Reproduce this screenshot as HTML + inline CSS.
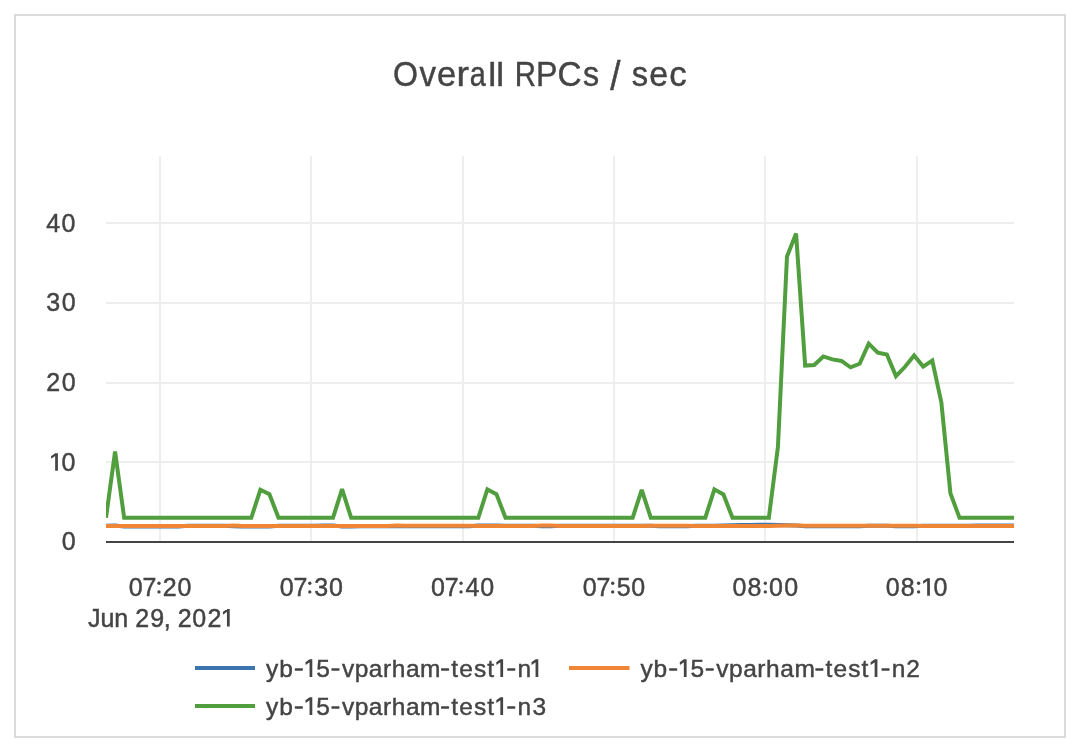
<!DOCTYPE html>
<html><head><meta charset="utf-8"><style>
html,body{margin:0;padding:0;background:#fff;}
svg{display:block;}
svg{will-change:transform;}
text{font-family:"Liberation Sans",sans-serif;fill:#444;stroke:#444;stroke-width:0.45px;}
</style></head><body>
<svg width="1074" height="744" viewBox="0 0 1074 744">
<rect x="0" y="0" width="1074" height="744" fill="#fff"/>
<rect x="15" y="15" width="1050" height="722" fill="none" stroke="#dbdbdd" stroke-width="2"/>
<g font-size="36"><text transform="translate(405.45,86) scale(0.893,1.0)" x="-14.00">O</text><text transform="translate(427.65,86) scale(0.918,0.95)" x="-9.00">v</text><text transform="translate(446.60,86) scale(0.960,0.95)" x="-9.95">e</text><text transform="translate(463.70,86) scale(1.042,0.95)" x="-6.90">r</text><text transform="translate(478.25,86) scale(0.801,0.95)" x="-10.75">a</text><text transform="translate(492.20,86) scale(1.000,0.915)" x="-4.00">l</text><text transform="translate(500.05,86) scale(0.974,0.915)" x="-4.00">l</text><text transform="translate(525.85,86) scale(0.817,1.0)" x="-13.65">R</text><text transform="translate(547.20,86) scale(0.893,1.0)" x="-12.55">P</text><text transform="translate(569.75,86) scale(0.927,1.0)" x="-13.20">C</text><text transform="translate(591.00,86) scale(0.896,0.95)" x="-8.85">s</text><text transform="translate(615.40,89.8) scale(1.019,1.12)" x="-5.00">/</text><text transform="translate(639.80,86) scale(0.908,0.95)" x="-8.85">s</text><text transform="translate(658.65,86) scale(0.943,0.95)" x="-9.95">e</text><text transform="translate(678.30,86) scale(0.969,0.95)" x="-9.25">c</text></g>
<g stroke="#eeeeee" stroke-width="2" fill="none">
<path d="M106,223H1014M106,303H1014M106,383H1014M106,462H1014"/>
<path d="M160,156V542M311,156V542M463,156V542M614,156V542M765,156V542M917,156V542"/>
</g>
<path d="M106,542H1014" stroke="#444" stroke-width="2"/>
<text y="231.9" font-size="25"><tspan x="46.15">4</tspan><tspan x="61.55">0</tspan></text>
<text y="310.9" font-size="25"><tspan x="46.20">3</tspan><tspan x="61.85">0</tspan></text>
<text y="391.1" font-size="25"><tspan x="46.25">2</tspan><tspan x="61.85">0</tspan></text>
<text y="470.8" font-size="25"><tspan x="61.45">0</tspan></text><path d="M55.15,453.25h2.75V470.80h-2.75ZM51.00,456.20L55.20,453.25L55.20,456.05L51.30,458.85Z" fill="#444"/>
<text y="550.2" font-size="25"><tspan x="61.75">0</tspan></text>
<text y="595.7" font-size="25"><tspan x="128.75">0</tspan><tspan x="142.55">7</tspan><tspan x="162.75">2</tspan><tspan x="177.50">0</tspan></text><circle cx="159.00" cy="583.25" r="1.65" fill="#444"/><circle cx="159.00" cy="591.90" r="1.65" fill="#444"/>
<text y="595.7" font-size="25"><tspan x="279.75">0</tspan><tspan x="293.55">7</tspan><tspan x="314.30">3</tspan><tspan x="328.95">0</tspan></text><circle cx="309.80" cy="583.25" r="1.65" fill="#444"/><circle cx="309.80" cy="591.90" r="1.65" fill="#444"/>
<text y="595.7" font-size="25"><tspan x="431.05">0</tspan><tspan x="444.80">7</tspan><tspan x="465.45">4</tspan><tspan x="480.25">0</tspan></text><circle cx="461.05" cy="583.25" r="1.65" fill="#444"/><circle cx="461.05" cy="591.90" r="1.65" fill="#444"/>
<text y="595.7" font-size="25"><tspan x="582.75">0</tspan><tspan x="596.55">7</tspan><tspan x="616.70">5</tspan><tspan x="631.25">0</tspan></text><circle cx="612.70" cy="583.25" r="1.65" fill="#444"/><circle cx="612.70" cy="591.90" r="1.65" fill="#444"/>
<text y="595.7" font-size="25"><tspan x="732.60">0</tspan><tspan x="747.40">8</tspan><tspan x="769.05">0</tspan><tspan x="784.20">0</tspan></text><circle cx="765.30" cy="583.25" r="1.65" fill="#444"/><circle cx="765.30" cy="591.90" r="1.65" fill="#444"/>
<text y="595.7" font-size="25"><tspan x="885.75">0</tspan><tspan x="900.85">8</tspan><tspan x="933.60">0</tspan></text><circle cx="918.60" cy="583.25" r="1.65" fill="#444"/><circle cx="918.60" cy="591.90" r="1.65" fill="#444"/><path d="M927.15,578.15h2.75V595.70h-2.75ZM923.00,581.10L927.20,578.15L927.20,580.95L923.30,583.75Z" fill="#444"/>
<text y="626.6" font-size="25"><tspan x="87.90">J</tspan><tspan x="100.45">u</tspan><tspan x="114.35">n</tspan><tspan x="135.25">2</tspan><tspan x="150.20">9</tspan><tspan x="163.70">,</tspan><tspan x="177.85">2</tspan><tspan x="192.35">0</tspan><tspan x="207.40">2</tspan></text><path d="M226.95,609.05h2.75V626.60h-2.75ZM222.80,612.00L227.00,609.05L227.00,611.85L223.10,614.65Z" fill="#444"/>
<defs><clipPath id="pc"><rect x="106" y="156" width="908" height="386"/></clipPath></defs>
<g clip-path="url(#pc)" fill="none" stroke-width="4" stroke-miterlimit="2">
<path d="M106.00,525.83L115.08,525.39L124.16,526.49L133.24,526.49L142.32,526.49L151.40,526.49L160.48,526.49L169.56,526.49L178.64,526.49L187.72,525.87L196.80,525.87L205.88,525.87L214.96,525.87L224.04,525.87L233.12,526.27L242.20,526.49L251.28,526.49L260.36,526.49L269.44,526.49L278.52,525.87L287.60,525.87L296.68,525.87L305.76,525.87L314.84,525.87L323.92,525.39L333.00,525.39L342.08,526.58L351.16,526.58L360.24,526.36L369.32,526.36L378.40,526.36L387.48,526.36L396.56,526.18L405.64,526.18L414.72,526.18L423.80,526.18L432.88,526.18L441.96,526.18L451.04,526.18L460.12,526.18L469.20,526.18L478.28,525.61L487.36,525.61L496.44,525.61L505.52,525.87L514.60,525.87L523.68,525.87L532.76,525.87L541.84,526.27L550.92,526.27L560.00,525.79L569.08,525.79L578.16,525.79L587.24,525.79L596.32,525.79L605.40,525.79L614.48,525.83L623.56,525.83L632.64,525.83L641.72,525.83L650.80,525.83L659.88,526.27L668.96,526.27L678.04,526.27L687.12,526.27L696.20,525.70L705.28,525.70L714.36,525.70L723.44,525.41L732.52,525.25L741.60,525.09L750.68,524.93L759.76,524.85L768.84,524.85L777.92,525.09L787.00,525.25L796.08,525.57L805.16,526.29L814.24,526.37L823.32,526.29L832.40,526.27L841.48,526.18L850.56,526.18L859.64,526.18L868.72,525.83L877.80,525.83L886.88,525.83L895.96,526.18L905.04,526.18L914.12,526.18L923.20,525.87L932.28,525.87L941.36,525.87L950.44,525.87L959.52,525.87L968.60,525.87L977.68,525.52L986.76,525.52L995.84,525.61L1004.92,525.61L1014.00,525.61" stroke="#3b75af"/>
<path d="M106.00,526.05L115.08,526.05L124.16,526.05L133.24,526.05L142.32,526.05L151.40,526.05L160.48,526.05L169.56,526.05L178.64,526.05L187.72,526.05L196.80,526.05L205.88,526.05L214.96,526.05L224.04,526.05L233.12,525.45L242.20,526.05L251.28,526.05L260.36,526.05L269.44,526.05L278.52,526.05L287.60,526.05L296.68,526.05L305.76,526.05L314.84,526.05L323.92,526.05L333.00,526.05L342.08,526.05L351.16,526.05L360.24,526.05L369.32,526.05L378.40,526.05L387.48,526.05L396.56,525.57L405.64,525.75L414.72,525.75L423.80,525.75L432.88,525.75L441.96,525.75L451.04,525.75L460.12,525.75L469.20,525.75L478.28,526.05L487.36,526.05L496.44,526.05L505.52,526.05L514.60,526.05L523.68,526.05L532.76,526.05L541.84,525.45L550.92,525.45L560.00,526.05L569.08,526.05L578.16,526.05L587.24,526.05L596.32,526.05L605.40,526.05L614.48,526.05L623.56,526.05L632.64,526.05L641.72,526.05L650.80,525.75L659.88,525.75L668.96,525.75L678.04,525.75L687.12,525.75L696.20,526.05L705.28,526.05L714.36,526.05L723.44,526.05L732.52,526.05L741.60,526.05L750.68,526.05L759.76,526.05L768.84,526.05L777.92,525.81L787.00,525.57L796.08,525.49L805.16,525.65L814.24,525.73L823.32,525.73L832.40,525.81L841.48,525.81L850.56,525.81L859.64,525.73L868.72,525.73L877.80,525.73L886.88,525.81L895.96,525.81L905.04,525.81L914.12,525.81L923.20,525.89L932.28,526.05L941.36,526.05L950.44,526.05L959.52,526.05L968.60,526.05L977.68,526.05L986.76,526.05L995.84,526.05L1004.92,526.05L1014.00,526.05" stroke="#ef8636"/>
<path d="M106.00,517.68L115.08,451.48L124.16,517.84L133.24,517.84L142.32,517.84L151.40,517.84L160.48,517.84L169.56,517.84L178.64,517.84L187.72,517.84L196.80,517.84L205.88,517.84L214.96,517.84L224.04,517.84L233.12,517.84L242.20,517.84L251.28,517.84L260.36,489.76L269.44,494.31L278.52,517.84L287.60,517.84L296.68,517.84L305.76,517.84L314.84,517.84L323.92,517.84L333.00,517.84L342.08,489.21L351.16,517.84L360.24,517.84L369.32,517.84L378.40,517.84L387.48,517.84L396.56,517.84L405.64,517.84L414.72,517.84L423.80,517.84L432.88,517.84L441.96,517.84L451.04,517.84L460.12,517.84L469.20,517.84L478.28,517.84L487.36,489.37L496.44,494.15L505.52,517.84L514.60,517.84L523.68,517.84L532.76,517.84L541.84,517.84L550.92,517.84L560.00,517.84L569.08,517.84L578.16,517.84L587.24,517.84L596.32,517.84L605.40,517.84L614.48,517.84L623.56,517.84L632.64,517.84L641.72,489.76L650.80,517.84L659.88,517.84L668.96,517.84L678.04,517.84L687.12,517.84L696.20,517.84L705.28,517.84L714.36,489.37L723.44,494.47L732.52,517.84L741.60,517.84L750.68,517.84L759.76,517.84L768.84,517.84L777.92,447.10L787.00,256.50L796.08,233.53L805.16,365.51L814.24,364.96L823.32,356.42L832.40,359.37L841.48,360.97L850.56,367.35L859.64,363.76L868.72,343.66L877.80,352.59L886.88,354.59L895.96,376.12L905.04,366.79L914.12,355.38L923.20,366.55L932.28,360.57L941.36,402.44L950.44,493.35L959.52,517.84L968.60,517.84L977.68,517.84L986.76,517.84L995.84,517.84L1004.92,517.84L1014.00,517.84" stroke="#519e3e"/>
</g>
<g stroke-width="4">
<path d="M195,668H255" stroke="#3b75af"/>
<path d="M569,668H629.5" stroke="#ef8636"/>
<path d="M195,706H255" stroke="#519e3e"/>
</g>
<text y="676.9" font-size="24.5"><tspan x="266.10" letter-spacing="0.8">yb</tspan><tspan x="316.19">5</tspan><tspan x="341.90" letter-spacing="0.55">vparham</tspan><tspan x="451.30" letter-spacing="1.1">test</tspan><tspan x="517.49">n</tspan></text><path d="M309.55,659.35h2.75V676.90h-2.75ZM305.40,662.30L309.60,659.35L309.60,662.15L305.70,664.95Z" fill="#444"/><path d="M500.35,659.35h2.75V676.90h-2.75ZM496.20,662.30L500.40,659.35L500.40,662.15L496.50,664.95Z" fill="#444"/><path d="M535.55,659.35h2.75V676.90h-2.75ZM531.40,662.30L535.60,659.35L535.60,662.15L531.70,664.95Z" fill="#444"/><rect x="294.80" y="668.15" width="8.1" height="2.5" rx="0.6" fill="#444"/><rect x="331.40" y="668.15" width="8.1" height="2.5" rx="0.6" fill="#444"/><rect x="441.00" y="668.15" width="8.1" height="2.5" rx="0.6" fill="#444"/><rect x="507.20" y="668.15" width="8.1" height="2.5" rx="0.6" fill="#444"/>
<text y="676.9" font-size="24.5"><tspan x="640.40" letter-spacing="0.8">yb</tspan><tspan x="690.49">5</tspan><tspan x="716.20" letter-spacing="0.55">vparham</tspan><tspan x="825.60" letter-spacing="1.1">test</tspan><tspan x="891.79">n</tspan><tspan x="906.19">2</tspan></text><path d="M683.85,659.35h2.75V676.90h-2.75ZM679.70,662.30L683.90,659.35L683.90,662.15L680.00,664.95Z" fill="#444"/><path d="M874.65,659.35h2.75V676.90h-2.75ZM870.50,662.30L874.70,659.35L874.70,662.15L870.80,664.95Z" fill="#444"/><rect x="669.10" y="668.15" width="8.1" height="2.5" rx="0.6" fill="#444"/><rect x="705.70" y="668.15" width="8.1" height="2.5" rx="0.6" fill="#444"/><rect x="815.30" y="668.15" width="8.1" height="2.5" rx="0.6" fill="#444"/><rect x="881.50" y="668.15" width="8.1" height="2.5" rx="0.6" fill="#444"/>
<text y="714.9" font-size="24.5"><tspan x="266.10" letter-spacing="0.8">yb</tspan><tspan x="316.19">5</tspan><tspan x="341.90" letter-spacing="0.55">vparham</tspan><tspan x="451.30" letter-spacing="1.1">test</tspan><tspan x="517.49">n</tspan><tspan x="532.39">3</tspan></text><path d="M309.55,697.35h2.75V714.90h-2.75ZM305.40,700.30L309.60,697.35L309.60,700.15L305.70,702.95Z" fill="#444"/><path d="M500.35,697.35h2.75V714.90h-2.75ZM496.20,700.30L500.40,697.35L500.40,700.15L496.50,702.95Z" fill="#444"/><rect x="294.80" y="706.15" width="8.1" height="2.5" rx="0.6" fill="#444"/><rect x="331.40" y="706.15" width="8.1" height="2.5" rx="0.6" fill="#444"/><rect x="441.00" y="706.15" width="8.1" height="2.5" rx="0.6" fill="#444"/><rect x="507.20" y="706.15" width="8.1" height="2.5" rx="0.6" fill="#444"/>
</svg>
</body></html>
